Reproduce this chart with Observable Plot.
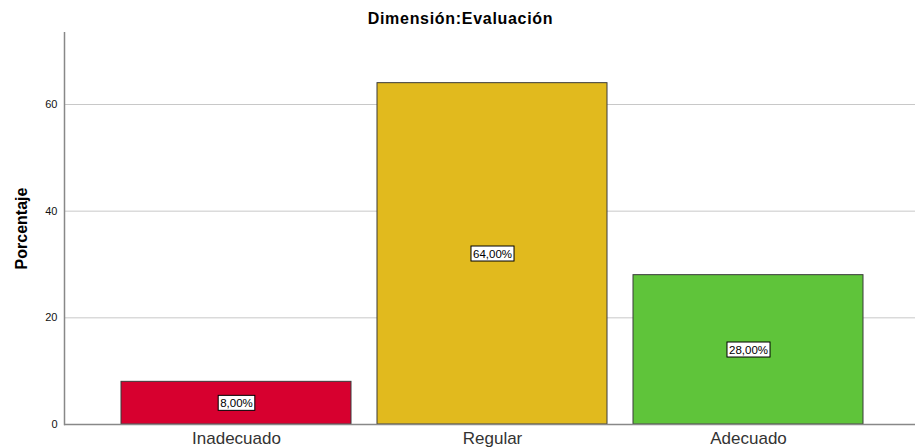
<!DOCTYPE html>
<html>
<head>
<meta charset="utf-8">
<script src="https://cdn.jsdelivr.net/npm/d3@7"></script>
<script src="https://cdn.jsdelivr.net/npm/@observablehq/plot@0.6"></script>
<style>
  html, body { margin: 0; padding: 0; background: #fff; }
  #wrap { width: 915px; height: 447px; position: relative; font-family: "Liberation Sans", Arial, sans-serif; }
  #title { height: 32px; line-height: 38px; text-align: center; font-weight: bold; font-size: 16px; letter-spacing: 0.7px; color: #000; padding-left: 6px; box-sizing: border-box; }
</style>
</head>
<body>
<div id="wrap">
  <div id="title">Dimensión:Evaluación</div>
  <div id="chart"></div>
</div>
<script>
const categories = ["Inadecuado", "Regular", "Adecuado"];
const values = [8, 64, 28];
const labels = ["8,00%", "64,00%", "28,00%"];
const colors = ["#d7002f", "#e1ba1e", "#5fc43a"];
const yTicks = [0, 20, 40, 60];

const data = categories.map((c, i) => ({cat: c, val: values[i], label: labels[i]}));

const chart = Plot.plot({
  width: 915,
  height: 415,
  marginTop: 0,
  marginLeft: 64,
  marginRight: 0,
  marginBottom: 23,
  style: {fontFamily: "'Liberation Sans', Arial, sans-serif", background: "#fff"},
  x: {domain: categories, paddingInner: 0.1, paddingOuter: 0.209, align: 0.523, label: null},
  y: {domain: [0, 73.5], label: null},
  color: {domain: categories, range: colors},
  marks: [
    Plot.gridY(yTicks.filter(d => d > 0), {stroke: "#c8c8c8", strokeOpacity: 1, strokeWidth: 1}),
    Plot.barY(data, {x: "cat", y: "val", fill: "cat", stroke: "#3a3a3a", strokeWidth: 1}),
    Plot.frame({anchor: "left", stroke: "#888", strokeWidth: 1.5}),
    Plot.ruleY([0], {stroke: "#888", strokeWidth: 1.5}),
    Plot.axisY({ticks: yTicks, tickSize: 0, tickPadding: 7, fontSize: 11, fill: "#111", label: null}),
    Plot.axisX({tickSize: 0, tickPadding: 7, fontSize: 17, fill: "#333", label: null}),
    Plot.text(data, {x: "cat", y: d => d.val / 2, text: "label", fontSize: 11.5, fill: "#000", className: "vlabel"}),
    Plot.text(["Porcentaje"], {frameAnchor: "left", textAnchor: "middle", dx: -43, rotate: -90, fontSize: 16, fontWeight: "bold", fill: "#000"})
  ]
});
document.getElementById("chart").appendChild(chart);

// white boxes behind the value labels, sized from the rendered text
d3.select(chart).selectAll("g.vlabel text").each(function() {
  const b = this.getBBox();
  const t = this.getAttribute("transform");
  const r = d3.select(this.parentNode).insert("rect", () => this)
    .attr("x", b.x - 2).attr("y", b.y - 1.5)
    .attr("width", b.width + 4).attr("height", b.height + 3)
    .attr("fill", "#fff").attr("stroke", "#000").attr("stroke-width", 1);
  if (t) r.attr("transform", t);
});
</script>
</body>
</html>
